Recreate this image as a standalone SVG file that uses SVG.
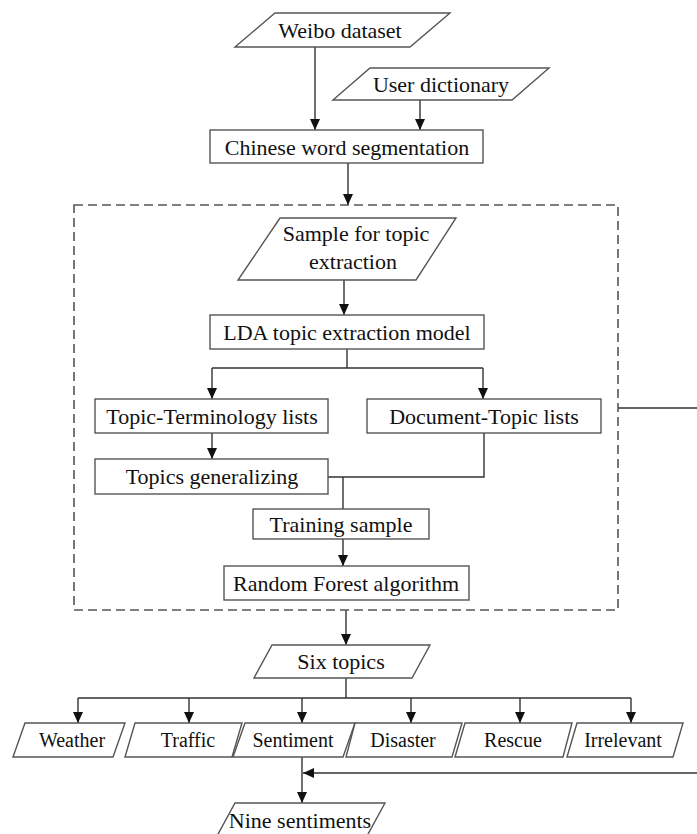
<svg xmlns="http://www.w3.org/2000/svg" width="697" height="834" viewBox="0 0 697 834">
<style>
.box{fill:#fff;stroke:#555;stroke-width:1.4}
.t{font-family:"Liberation Serif","Times New Roman",serif;font-size:22px;fill:#111;text-anchor:middle}
.s{font-family:"Liberation Serif","Times New Roman",serif;font-size:20px;fill:#111;text-anchor:middle}
.ln{fill:none;stroke:#333;stroke-width:1.4}
.ar{fill:none;stroke:#333;stroke-width:1.4;marker-end:url(#ah)}
.dash{fill:none;stroke:#555;stroke-width:1.6;stroke-dasharray:9 5}
</style>
<defs>
<marker id="ah" markerUnits="userSpaceOnUse" markerWidth="12" markerHeight="10" refX="11" refY="5" orient="auto">
<path d="M0,0 L11,5 L0,10 z" fill="#111"/>
</marker>
</defs>
<rect width="697" height="834" fill="#fff"/>
<g id="connectors">
<path class="ar" d="M315,47 V130"/>
<path class="ar" d="M420,100 V130"/>
<path class="ar" d="M348,163 V205"/>
<path class="ar" d="M344,280 V315"/>
<path class="ln" d="M347,349 V368 M212,368 H483"/>
<path class="ar" d="M212,368 V399"/>
<path class="ar" d="M483,368 V399"/>
<path class="ar" d="M212,433 V459"/>
<path class="ln" d="M328,477 H484 V433 M343,477 V509"/>
<path class="ar" d="M343,539 V566"/>
<path class="ar" d="M346,610 V645"/>
<path class="ln" d="M346,678 V698 M78,698 H631"/>
<path class="ar" d="M78,698 V723"/>
<path class="ar" d="M189,698 V723"/>
<path class="ar" d="M302,698 V723"/>
<path class="ar" d="M411,698 V723"/>
<path class="ar" d="M520,698 V723"/>
<path class="ar" d="M631,698 V723"/>
<path class="ar" d="M302,757 V803"/>
<path class="ar" d="M618,408 H699 V773 H303"/>
</g>
<g id="group-box"><rect class="dash" x="74" y="205" width="544" height="405"/></g>
<g id="weibo"><polygon class="box" points="275,13 450,13 410,47 235,47"/><text class="t" x="340" y="38">Weibo dataset</text></g>
<g id="userdict"><polygon class="box" points="370,68 549,68 512,100 333,100"/><text class="t" x="441" y="92">User dictionary</text></g>
<g id="cws"><rect class="box" x="210" y="130" width="273" height="33"/><text class="t" x="347" y="155">Chinese word segmentation</text></g>
<g id="sample"><polygon class="box" points="280,218 456,218 416,280 238,280"/><text class="t" x="356" y="241">Sample for topic</text><text class="t" x="353" y="269">extraction</text></g>
<g id="lda"><rect class="box" x="210" y="315" width="274" height="34"/><text class="t" x="347" y="340">LDA topic extraction model</text></g>
<g id="tt"><rect class="box" x="95" y="399" width="233" height="34"/><text class="t" x="212" y="424">Topic-Terminology lists</text></g>
<g id="dt"><rect class="box" x="367" y="399" width="234" height="34"/><text class="t" x="484" y="424">Document-Topic lists</text></g>
<g id="tg"><rect class="box" x="95" y="459" width="233" height="35"/><text class="t" x="212" y="484">Topics generalizing</text></g>
<g id="ts"><rect class="box" x="253" y="509" width="176" height="30"/><text class="t" x="341" y="532">Training sample</text></g>
<g id="rf"><rect class="box" x="224" y="566" width="245" height="34"/><text class="t" x="346" y="591">Random Forest algorithm</text></g>
<g id="six"><polygon class="box" points="272,645 430,645 412,678 254,678"/><text class="t" x="341" y="669">Six topics</text></g>
<g id="weather"><polygon class="box" points="25,723 125,723 113,757 13,757"/><text class="s" x="72" y="747">Weather</text></g>
<g id="traffic"><polygon class="box" points="135,723 242,723 232,757 125,757"/><text class="s" x="188" y="747">Traffic</text></g>
<g id="sentiment"><polygon class="box" points="245,723 355,723 343,757 233,757"/><text class="s" x="293" y="747">Sentiment</text></g>
<g id="disaster"><polygon class="box" points="355,723 462,723 452,757 346,757"/><text class="s" x="403" y="747">Disaster</text></g>
<g id="rescue"><polygon class="box" points="465,723 572,723 563,757 455,757"/><text class="s" x="513" y="747">Rescue</text></g>
<g id="irrelevant"><polygon class="box" points="577,723 683,723 673,757 567,757"/><text class="s" x="623" y="747">Irrelevant</text></g>
<g id="nine"><polygon class="box" points="235,803 385,803 367,836 217,836"/><text class="t" x="300" y="828">Nine sentiments</text></g>
</svg>
